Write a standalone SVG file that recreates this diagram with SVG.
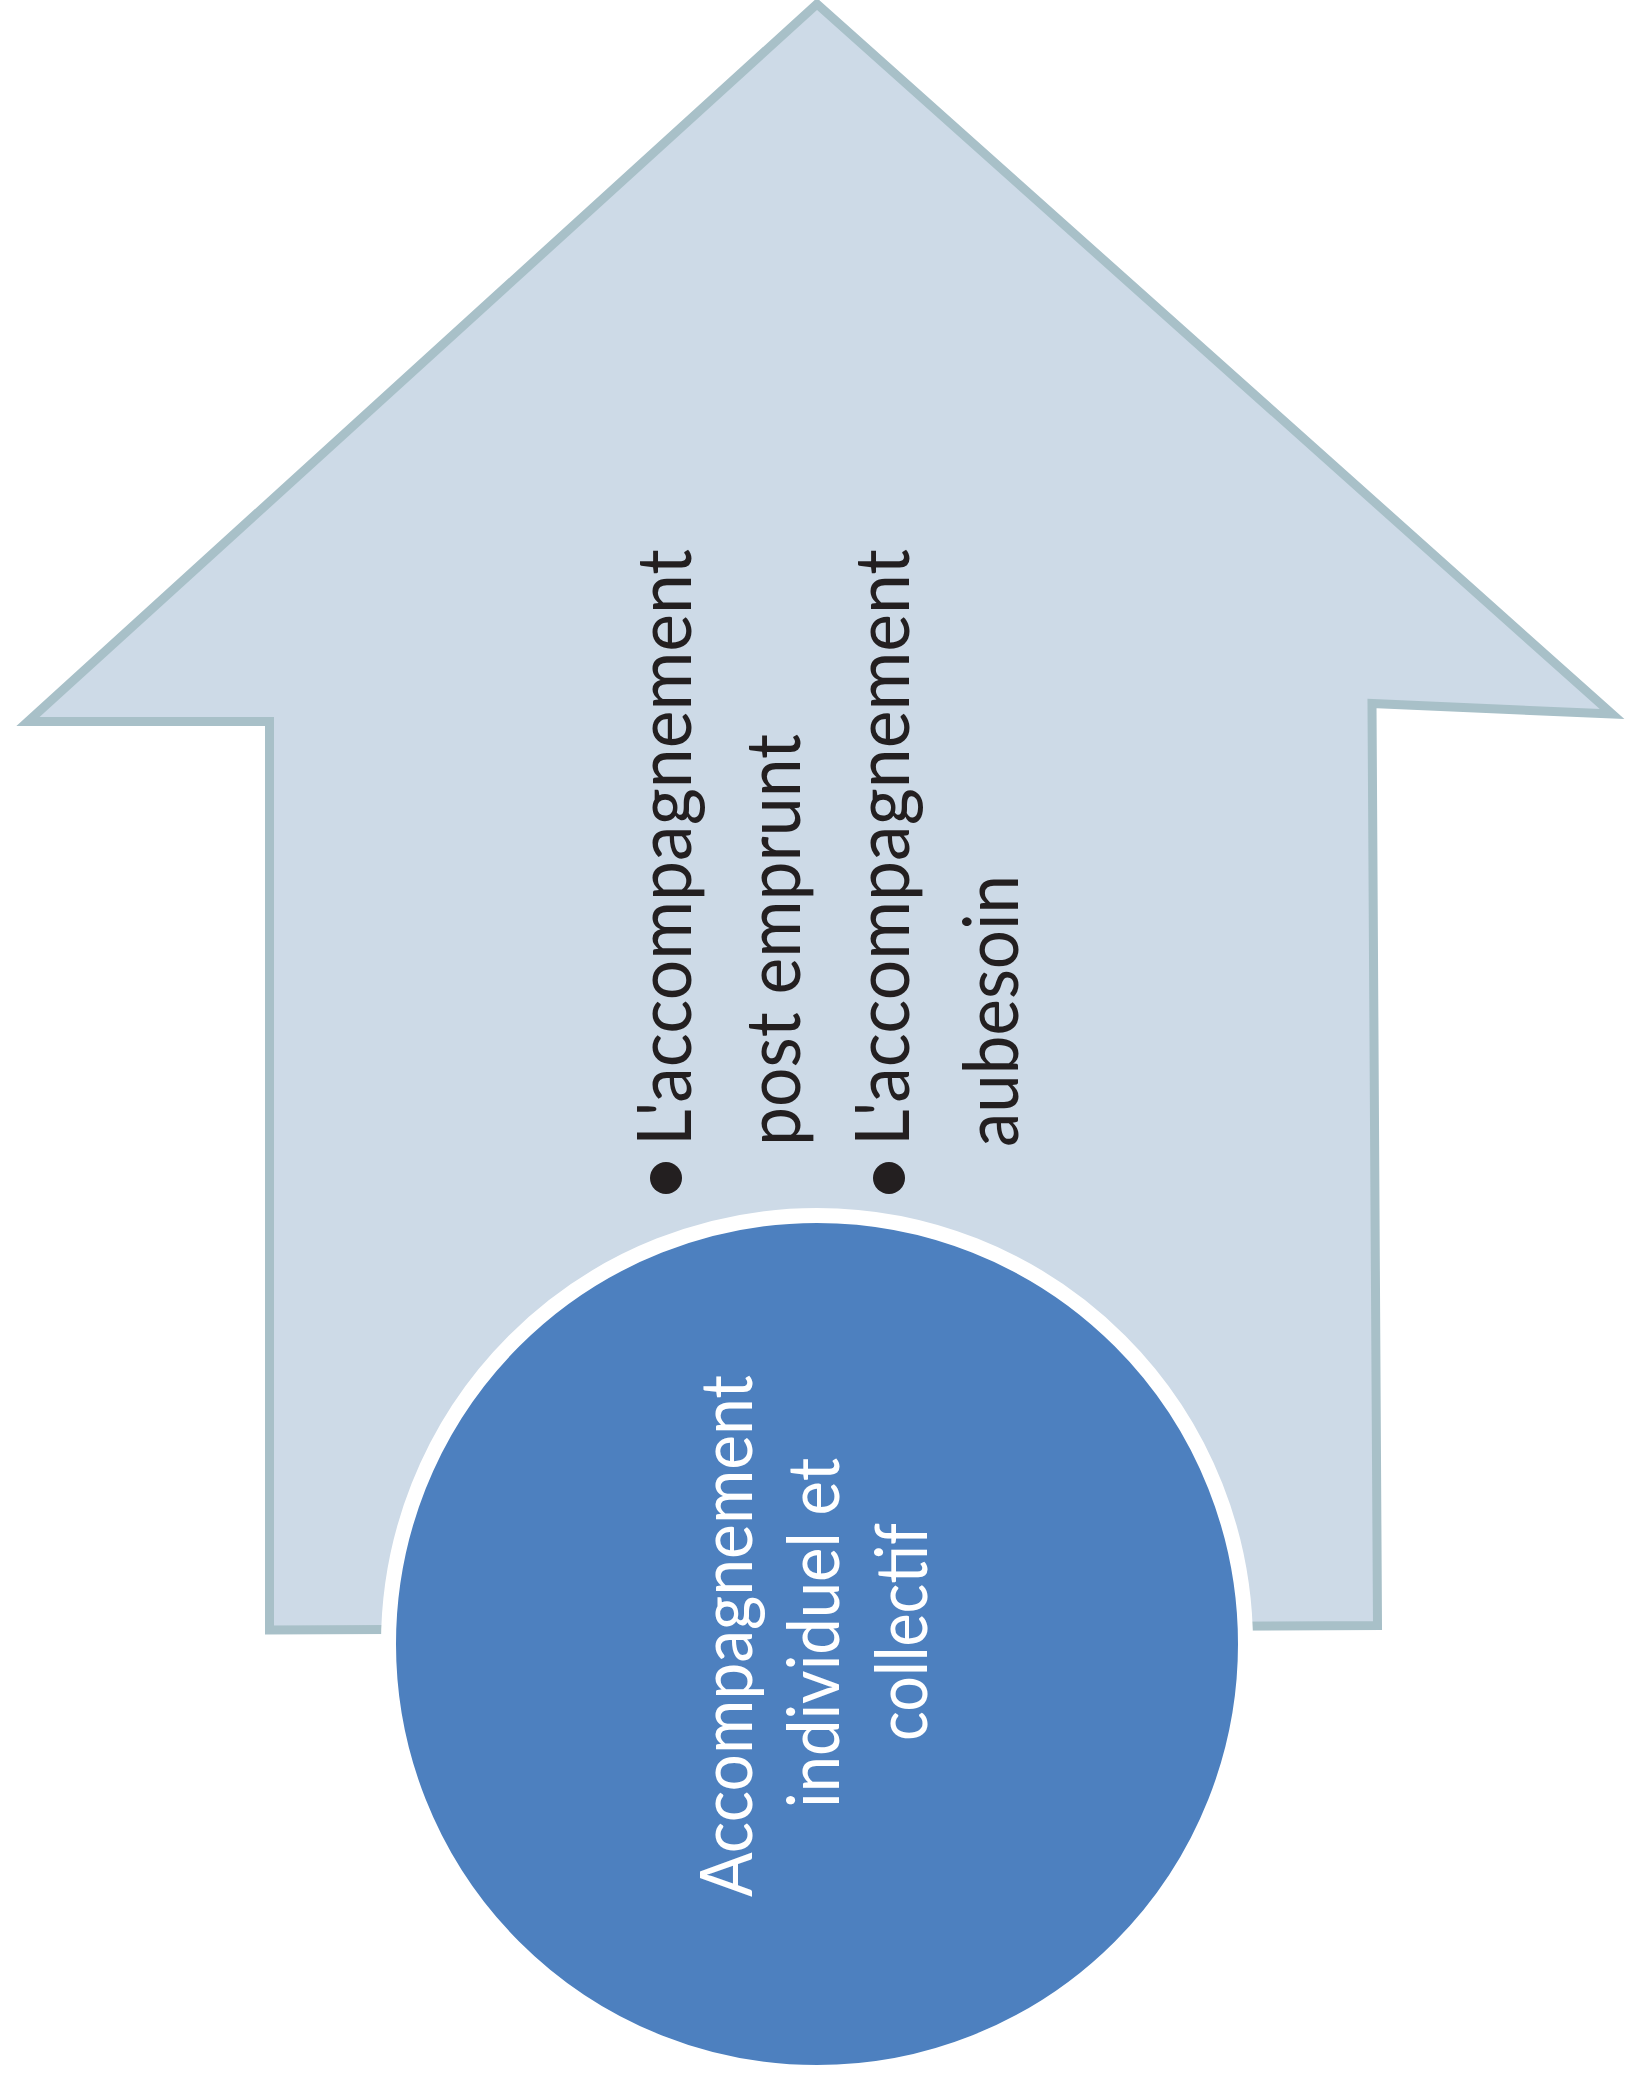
<svg xmlns="http://www.w3.org/2000/svg" width="1626" height="2096" viewBox="0 0 1626 2096">
<style>
.arrow{fill:#cddae7;stroke:#a8c0c8;stroke-width:9;stroke-linejoin:miter;stroke-miterlimit:20}
.circ{fill:#4d80bf;stroke:#ffffff;stroke-width:15}
.t1{font-family:Lato,"Liberation Sans",sans-serif;font-size:76px;fill:#231f20}
.t2{font-family:Lato,"Liberation Sans",sans-serif;font-size:72px;fill:#ffffff;text-anchor:middle}
.bul{fill:#231f20}
</style>
<g id="arrow">
<polygon class="arrow" points="817,4 1612,714 1372,703.5 1377.5,1625.5 269.5,1630 269.5,721.5 28,721.5"/>
<text class="t1" transform="translate(691,1146) rotate(-90)" textLength="597" lengthAdjust="spacingAndGlyphs">L'accompagnement</text>
<text class="t1" transform="translate(800,1146) rotate(-90)" textLength="412" lengthAdjust="spacingAndGlyphs">post emprunt</text>
<text class="t1" transform="translate(909,1146) rotate(-90)" textLength="597" lengthAdjust="spacingAndGlyphs">L'accompagnement</text>
<text class="t1" transform="translate(1018,1147) rotate(-90)" textLength="272" lengthAdjust="spacingAndGlyphs">aubesoin</text>
<circle class="bul" cx="666" cy="1178" r="16"/>
<circle class="bul" cx="889" cy="1178" r="16"/>
</g>
<g id="circle">
<circle class="circ" cx="817" cy="1644" r="428.5"/>
<text class="t2" transform="translate(752,1636) rotate(-90)" textLength="522" lengthAdjust="spacingAndGlyphs">Accompagnement</text>
<text class="t2" transform="translate(839,1633) rotate(-90)" textLength="350" lengthAdjust="spacingAndGlyphs">individuel et</text>
<text class="t2" transform="translate(927,1632) rotate(-90)" textLength="218" lengthAdjust="spacingAndGlyphs">collectif</text>
</g>
<g id="connectors"></g>
</svg>
